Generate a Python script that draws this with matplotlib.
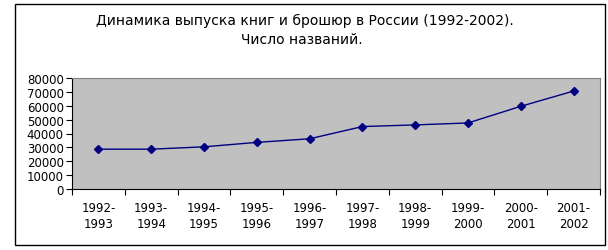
import numpy as np
import matplotlib.pyplot as plt
from matplotlib.patches import Rectangle

periods = ['1992-\n1993', '1993-\n1994', '1994-\n1995', '1995-\n1996', '1996-\n1997',
           '1997-\n1998', '1998-\n1999', '1999-\n2000', '2000-\n2001', '2001-\n2002']
titles = [28700, 28700, 30400, 33600, 36200, 45000, 46200, 47600, 59600, 70600]
y_ticks = [0, 10000, 20000, 30000, 40000, 50000, 60000, 70000, 80000]

W, H = 608, 251
fig = plt.figure(figsize=(W / 100, H / 100), dpi=100)
fig.patch.set_facecolor('white')

# outer chart border
fig.add_artist(Rectangle((15 / W, 5 / H), 590 / W, 241 / H, transform=fig.transFigure,
                         fill=False, edgecolor='black', linewidth=1.0))

ax = fig.add_axes([72 / W, 1 - 190 / H, 528 / W, 111 / H])
ax.set_facecolor('#c0c0c0')

x = np.arange(len(titles))
ax.plot(x, titles, color='#000080', linewidth=1.0, marker='D', markersize=4,
        markerfacecolor='#000080', markeredgecolor='#000080')

ax.set_xlim(-0.5, len(titles) - 0.5)
ax.set_ylim(0, 80000)
ax.set_yticks(y_ticks)
ax.set_yticklabels([str(v) for v in y_ticks], fontsize=8.5)

# ticks between categories, labels centred on categories
ax.set_xticks(np.arange(-0.5, len(titles), 1.0))
ax.set_xticklabels([])
ax.set_xticks(x, minor=True)
ax.set_xticklabels(periods, minor=True, fontsize=8.5, linespacing=1.3)
ax.tick_params(axis='x', which='minor', length=0, pad=9)
ax.tick_params(axis='x', which='major', direction='out', length=4, width=0.8)
ax.tick_params(axis='y', direction='out', length=4, width=0.8, pad=2)

ax.spines['left'].set_color('black')
ax.spines['bottom'].set_color('black')
ax.spines['top'].set_color('#808080')
ax.spines['right'].set_color('#808080')

fig.text(305 / W, 1 - 21 / H, 'Динамика выпуска книг и брошюр в России (1992-2002).',
         ha='center', va='center', fontsize=10)
fig.text(302 / W, 1 - 40 / H, 'Число названий.', ha='center', va='center', fontsize=10)

fig.savefig('out.png', dpi=100)
